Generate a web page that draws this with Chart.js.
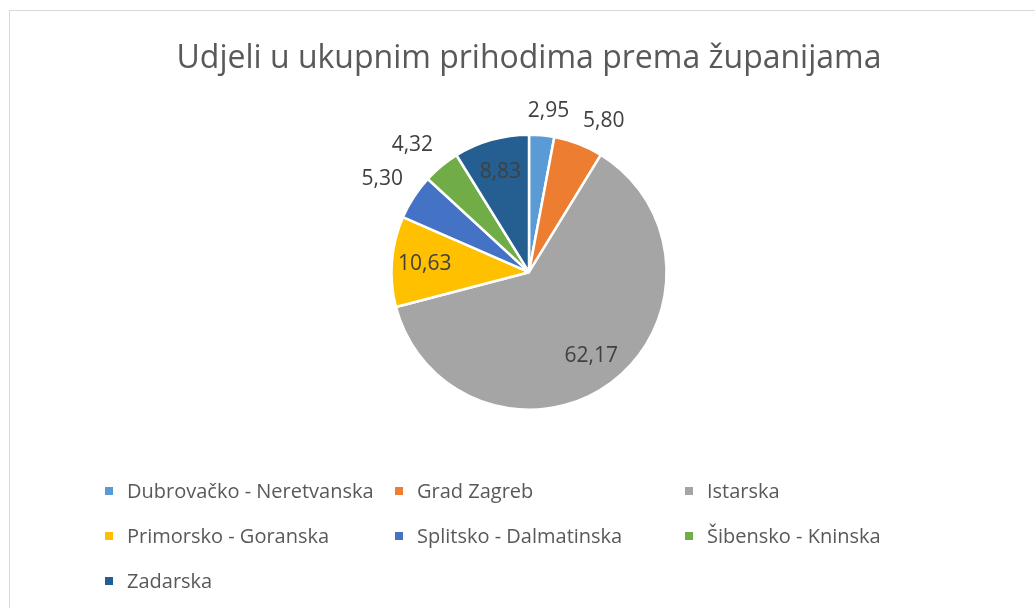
<!DOCTYPE html>
<html>
<head>
<meta charset="utf-8">
<script src="https://cdn.jsdelivr.net/npm/chart.js@4.4.1/dist/chart.umd.min.js"></script>
<style>
    body { margin: 0; background: #fff; overflow: hidden; }
    #wrap { position: relative; width: 1035px; height: 608px; overflow: hidden; }
    #frame { position: absolute; left: 9px; top: 10px; width: 2000px; height: 2000px;
             border-left: 1px solid #d9d9d9; border-top: 1px solid #d9d9d9; }
    #chart { position: absolute; left: 0; top: 0; }
    #legend { position: absolute; left: 105px; top: 468px; display: grid;
              grid-template-columns: 290px 290px 290px; grid-auto-rows: 45px;
              font-family: "Open Sans", sans-serif; font-size: 20px; color: #595959; }
    #legend .item { display: flex; align-items: center; white-space: nowrap; }
    #legend .box { width: 8px; height: 8px; margin-right: 14px; flex: none; }
</style>
</head>
<body>
<div id="wrap">
    <div id="frame"></div>
    <canvas id="chart" width="1035" height="608"></canvas>
    <div id="legend"></div>
</div>
<script>
const counties = ["Dubrovačko - Neretvanska", "Grad Zagreb", "Istarska", "Primorsko - Goranska",
                  "Splitsko - Dalmatinska", "Šibensko - Kninska", "Zadarska"];
const shares = [2.95, 5.80, 62.17, 10.63, 5.30, 4.32, 8.83];
const colors = ["#5B9BD5", "#ED7D31", "#A5A5A5", "#FFC000", "#4472C4", "#70AD47", "#255E91"];
const chartTitle = "Udjeli u ukupnim prihodima prema županijama";

const clamp1 = v => Math.max(-1, Math.min(1, v));

// Excel-like "best fit" labels: small slices outside, big ones inside
const pieLabels = {
    id: "pieLabels",
    afterDatasetsDraw(chart) {
        const ctx = chart.ctx;
        const meta = chart.getDatasetMeta(0);
        ctx.save();
        ctx.font = "21px 'Open Sans'";
        ctx.fillStyle = "#404040";
        ctx.textAlign = "center";
        ctx.textBaseline = "middle";
        meta.data.forEach((arc, i) => {
            const p = arc.getProps(["x", "y", "startAngle", "endAngle", "outerRadius"], true);
            const mid = (p.startAngle + p.endAngle) / 2;
            const v = shares[i];
            const txt = v.toFixed(2).replace(".", ",");
            const ux = Math.cos(mid), uy = Math.sin(mid);
            let cx, cy;
            if (v < 7) {
                // nearest corner of the label box sits just outside the rim
                const w = ctx.measureText(txt).width, h = 22;
                const d = p.outerRadius + 13;
                cx = p.x + ux * d + clamp1(ux / 0.35) * w / 2;
                cy = p.y + uy * d + clamp1(uy / 0.35) * h / 2;
            } else {
                const d = p.outerRadius * 0.76;
                cx = p.x + ux * d;
                cy = p.y + uy * d;
            }
            ctx.fillText(txt, cx, cy);
        });
        ctx.restore();
    }
};

const ctx = document.getElementById("chart").getContext("2d");
const chart = new Chart(ctx, {
    type: "pie",
    data: {
        labels: counties,
        datasets: [{
            data: shares,
            backgroundColor: colors,
            borderColor: "#ffffff",
            borderWidth: 2.5
        }]
    },
    options: {
        responsive: false,
        animation: false,
        layout: { padding: { left: 23, right: 0, top: 0, bottom: 197 } },
        plugins: {
            legend: { display: false },
            tooltip: { enabled: false },
            title: {
                display: true,
                text: chartTitle,
                color: "#595959",
                font: { family: "Open Sans", size: 32, weight: "normal", lineHeight: 1.2 },
                padding: { top: 40, bottom: 55 }
            }
        }
    },
    plugins: [pieLabels]
});

// legend in a 3-column grid, like the original
const legendEl = document.getElementById("legend");
chart.options.plugins.legend.labels.generateLabels(chart).forEach(item => {
    const div = document.createElement("div");
    div.className = "item";
    const box = document.createElement("span");
    box.className = "box";
    box.style.background = item.fillStyle;
    const label = document.createElement("span");
    label.textContent = item.text;
    div.appendChild(box);
    div.appendChild(label);
    legendEl.appendChild(div);
});
</script>
</body>
</html>
